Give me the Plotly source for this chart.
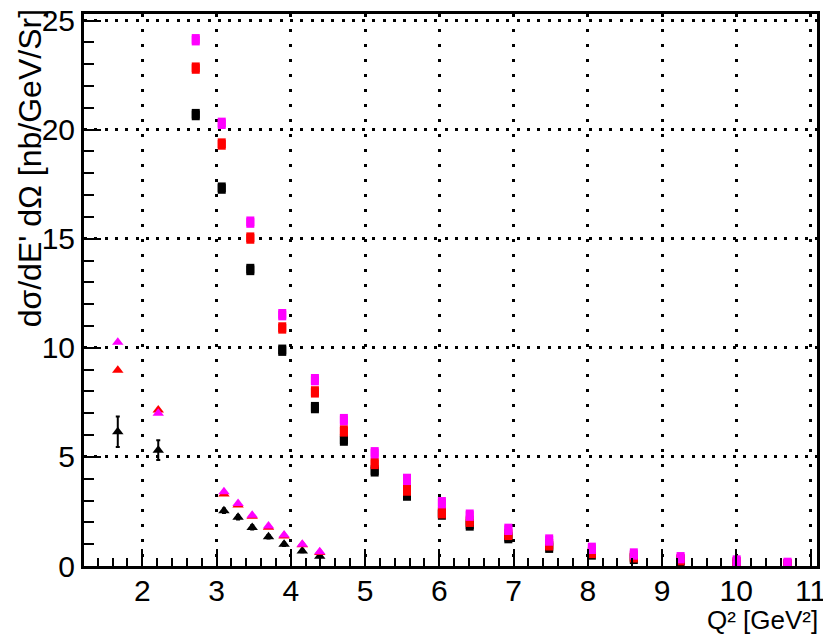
import plotly.graph_objects as go

# Q^2 bin centres and cross sections for the three settings (squares)
sq_q2 = [2.72, 3.07, 3.455, 3.885, 4.325, 4.715, 5.13, 5.565, 6.035, 6.41,
         6.93, 7.48, 8.055, 8.62, 9.25, 10.005, 10.69]
sq_black = [20.69, 17.32, 13.59, 9.89, 7.26, 5.77, 4.36, 3.25, 2.38, 1.88,
            1.30, 0.86, 0.55, 0.35, 0.24, 0.12, 0.04]
sq_red = [22.82, 19.34, 15.03, 10.91, 7.98, 6.19, 4.70, 3.48, 2.44, 2.05,
          1.45, 0.97, 0.62, 0.42, 0.29, 0.16, 0.07]
sq_magenta = [24.12, 20.29, 15.76, 11.52, 8.54, 6.71, 5.19, 3.97, 2.90, 2.33,
              1.68, 1.19, 0.81, 0.55, 0.38, 0.23, 0.12]
sq_err = 0.26

# low-Q^2 points (triangles)
tri_q2 = [1.67, 2.215, 3.10, 3.29, 3.48, 3.70, 3.91, 4.155, 4.39]
tri_black = [6.15, 5.31, 2.53, 2.23, 1.77, 1.34, 1.00, 0.69, 0.45]
tri_black_err = [0.70, 0.45, 0.10, 0.10, 0.10, 0.08, 0.08, 0.06, 0.05]
tri_red = [8.97, 7.15, 3.30, 2.80, 2.28, 1.78, 1.38, 0.97, 0.62]
tri_magenta = [10.25, 7.00, 3.40, 2.87, 2.33, 1.83, 1.42, 1.00, 0.65]

x_ticks = [2, 3, 4, 5, 6, 7, 8, 9, 10, 11]
y_ticks = [0, 5, 10, 15, 20, 25]

FONT = "Liberation Sans Narrow, Liberation Sans, Arial, sans-serif"
MAGENTA = "#ff00ff"
RED = "#ff0000"
BLACK = "#000000"

fig = go.Figure()


def add_squares(y, color):
    fig.add_trace(go.Scatter(
        x=sq_q2, y=y, mode="markers",
        marker=dict(symbol="square", size=8, color=color, line=dict(width=0)),
        error_y=dict(type="constant", value=sq_err, thickness=8, width=0, color=color),
        showlegend=False, hoverinfo="x+y",
    ))


def add_triangles(y, color, err=None):
    ey = dict(visible=False)
    if err is not None:
        ey = dict(type="data", array=err, thickness=2, width=2, color=color)
    fig.add_trace(go.Scatter(
        x=tri_q2, y=y, mode="markers",
        marker=dict(symbol="triangle-up", size=10, color=color, line=dict(width=0)),
        error_y=ey, showlegend=False, hoverinfo="x+y",
    ))


add_squares(sq_black, BLACK)
add_squares(sq_red, RED)
add_squares(sq_magenta, MAGENTA)
add_triangles(tri_black, BLACK, tri_black_err)
add_triangles(tri_red, RED)
add_triangles(tri_magenta, MAGENTA)

axis_common = dict(
    showline=True, linewidth=3, linecolor="black", mirror=True,
    ticks="inside", tickwidth=2, tickcolor="black", ticklen=17,
    showgrid=True, gridcolor="black", gridwidth=2.5,
    zeroline=False, automargin=False,
    tickfont=dict(family=FONT, size=30, color="black"),
    ticklabeloverflow="allow",
)

fig.update_xaxes(
    **axis_common,
    range=[1.215, 11.087],
    tickvals=x_ticks, ticktext=[str(v) for v in x_ticks],
    ticklabelstandoff=-4,
    griddash="3px,12px",
    minor=dict(ticks="inside", dtick=0.2, tick0=2, ticklen=8, tickwidth=2,
               tickcolor="black", showgrid=False),
)
fig.update_yaxes(
    **axis_common,
    range=[0, 25.3],
    tickvals=y_ticks, ticktext=[str(v) for v in y_ticks],
    griddash="3px,7.3px",
    minor=dict(ticks="inside", dtick=1, tick0=0, ticklen=10, tickwidth=2,
               tickcolor="black", showgrid=False),
)

fig.update_layout(
    width=823, height=636,
    margin=dict(l=84, r=6, t=13.5, b=70, pad=0, autoexpand=False),
    plot_bgcolor="white", paper_bgcolor="white",
    font=dict(family=FONT, color="black"),
    annotations=[
        dict(text="Q\u00b2 [GeV\u00b2]", xref="paper", yref="paper",
             x=1.004, y=-0.129, xanchor="right", yanchor="bottom",
             showarrow=False, font=dict(family=FONT, size=26, color="black")),
        dict(text="d\u03c3/dE' d\u03a9 [nb/GeV/Sr]", xref="paper", yref="paper",
             x=-0.0737, y=1.012, xanchor="center", yanchor="top", textangle=-90,
             showarrow=False, font=dict(family=FONT, size=32, color="black")),
        dict(text="O", xref="paper", yref="paper",
             x=0.0546, y=1.0105, xanchor="center", yanchor="bottom",
             showarrow=False, font=dict(family="Liberation Sans, Arial", size=30, color=RED)),
    ],
)

fig.write_html("out.html")
